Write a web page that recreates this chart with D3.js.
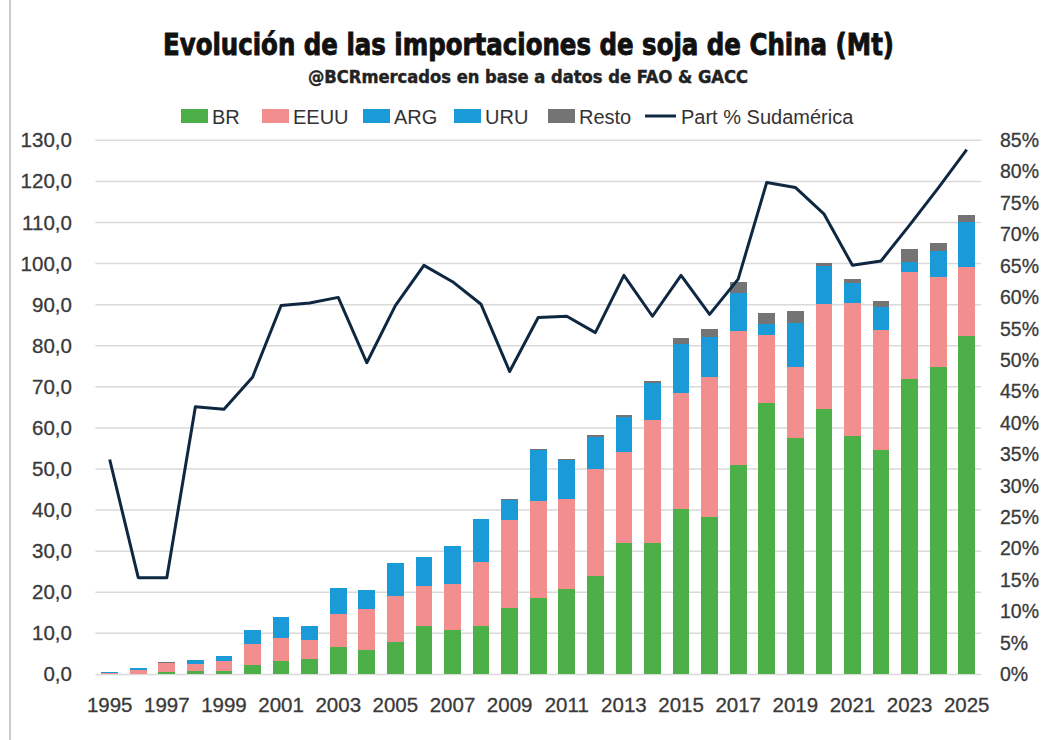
<!DOCTYPE html>
<html>
<head>
<meta charset="utf-8">
<script src="https://cdn.jsdelivr.net/npm/d3@7"></script>
<style>
  html, body { margin: 0; padding: 0; background: #ffffff; }
  svg { display: block; }
</style>
</head>
<body>
<svg id="chart" width="1042" height="740"></svg>
<script>
// ---- DATA ----
const years = d3.range(1995, 2026).map(String);
const BR   = [0.0, 0.05, 0.55, 0.8, 0.9, 2.2, 3.2, 3.8, 6.6, 5.9, 8.0, 11.8, 10.8, 11.8, 16.1, 18.6, 20.7, 23.9, 31.9, 32.1, 40.2, 38.4, 50.9, 66.1, 57.5, 64.5, 58.1, 54.5, 71.8, 74.8, 82.4];
const EEUU = [0.3, 0.9, 2.25, 1.8, 2.4, 5.3, 5.7, 4.5, 8.1, 9.9, 11.0, 9.6, 11.3, 15.5, 21.6, 23.6, 22.1, 26.1, 22.2, 29.9, 28.3, 34.1, 32.8, 16.6, 17.3, 25.6, 32.4, 29.4, 26.2, 21.9, 16.8];
const ARG  = [0.3, 0.5, 0.0, 0.8, 1.3, 3.2, 5.1, 3.4, 6.3, 4.7, 8.0, 7.2, 9.1, 10.6, 4.5, 11.5, 8.6, 6.4, 6.9, 7.1, 10.0, 7.8, 7.2, 1.5, 9.3, 7.9, 3.4, 4.1, 1.5, 4.6, 8.8];
const URU  = [0.0, 0.0, 0.0, 0.0, 0.0, 0.0, 0.0, 0.0, 0.0, 0.0, 0.0, 0.0, 0.0, 0.0, 0.3, 1.0, 0.8, 1.3, 1.6, 1.8, 2.0, 1.8, 2.0, 1.2, 1.5, 1.5, 1.3, 1.5, 0.8, 1.8, 2.0];
const Resto= [0.0, 0.0, 0.2, 0.0, 0.0, 0.0, 0.0, 0.0, 0.0, 0.0, 0.0, 0.0, 0.0, 0.0, 0.3, 0.2, 0.2, 0.6, 0.6, 0.6, 1.4, 1.9, 2.5, 2.6, 2.8, 0.6, 1.1, 1.5, 3.2, 1.9, 1.8];
const partSA = [34.2, 15.4, 15.4, 42.6, 42.2, 47.3, 58.7, 59.1, 60.0, 49.6, 58.7, 65.1, 62.5, 58.9, 48.2, 56.8, 57.0, 54.4, 63.5, 57.0, 63.5, 57.3, 62.9, 78.3, 77.5, 73.3, 65.1, 65.8, 71.5, 77.4, 83.5];
const seriesNames = ["BR", "EEUU", "ARG", "URU", "Resto"];
const lineName = "Part % Sudamérica";
const leftTicks = d3.range(0, 131, 10);
const rightTicks = d3.range(0, 86, 5);
const xTickYears = years.filter((d, i) => i % 2 === 0);
const title = "Evolución de las importaciones de soja de China (Mt)";
const subtitle = "@BCRmercados  en base a datos de FAO & GACC";

// ---- STYLE ----
const colors = { BR: "#4caf47", EEUU: "#f28e8e", ARG: "#1a9bd7", URU: "#1a9bd7", Resto: "#747474" };
const lineColor = "#0e2841";
const tickFont = "'Liberation Sans', Arial, sans-serif";

const svg = d3.select("#chart");
svg.append("rect").attr("width", 1042).attr("height", 740).attr("fill", "#ffffff");
svg.append("line").attr("x1", 10).attr("x2", 10).attr("y1", 0).attr("y2", 740)
  .attr("stroke", "#a8a8a8").attr("stroke-width", 1.2);

const plot = { left: 95.4, right: 981, top: 140.3, bottom: 674.4 };

const table = years.map((yr, i) => ({
  year: yr, BR: BR[i], EEUU: EEUU[i], ARG: ARG[i], URU: URU[i], Resto: Resto[i], part: partSA[i]
}));

const x = d3.scaleBand().domain(years).range([plot.left, plot.right])
  .paddingInner(0.415).paddingOuter(0.2075);
const y = d3.scaleLinear().domain([0, 130]).range([plot.bottom, plot.top]);
const y2 = d3.scaleLinear().domain([0, 85]).range([plot.bottom, plot.top]);

// gridlines
svg.append("g").selectAll("line").data(leftTicks).join("line")
  .attr("x1", plot.left).attr("x2", plot.right)
  .attr("y1", d => y(d)).attr("y2", d => y(d))
  .attr("stroke", "#d9d9d9").attr("stroke-width", 1.5);

// stacked bars
const stack = d3.stack().keys(seriesNames);
const stacked = stack(table);
svg.append("g").attr("shape-rendering", "crispEdges").selectAll("g").data(stacked).join("g")
  .attr("fill", d => colors[d.key])
  .selectAll("rect").data(d => d).join("rect")
  .attr("x", d => x(d.data.year))
  .attr("width", x.bandwidth())
  .attr("y", d => y(d[1]))
  .attr("height", d => Math.max(0, y(d[0]) - y(d[1])));

// line
const line = d3.line().x(d => x(d.year) + x.bandwidth() / 2).y(d => y2(d.part));
svg.append("path").datum(table).attr("d", line)
  .attr("fill", "none").attr("stroke", lineColor).attr("stroke-width", 3)
  .attr("stroke-linejoin", "round");

// axes
const fmtLeft = d => d3.format(".1f")(d).replace(".", ",");
const gl = svg.append("g").attr("transform", `translate(${plot.left},0)`)
  .call(d3.axisLeft(y).tickValues(leftTicks).tickFormat(fmtLeft).tickSize(0).tickPadding(23.5));
const gr = svg.append("g").attr("transform", `translate(${plot.right},0)`)
  .call(d3.axisRight(y2).tickValues(rightTicks).tickFormat(d => d + "%").tickSize(0).tickPadding(19));
const gx = svg.append("g").attr("transform", `translate(0,${plot.bottom})`)
  .call(d3.axisBottom(x).tickValues(xTickYears).tickSize(0).tickPadding(23.5));
[gl, gx].forEach(g => {
  g.select(".domain").remove();
  g.selectAll("text").attr("font-family", tickFont).attr("font-size", 20.5)
    .attr("fill", "#3a3a3a").attr("stroke", "#3a3a3a").attr("stroke-width", 0.3);
});
gr.select(".domain").remove();
gr.selectAll("text").attr("font-family", tickFont).attr("font-size", 19.5)
  .attr("fill", "#3a3a3a").attr("stroke", "#3a3a3a").attr("stroke-width", 0.3);

// title
svg.append("text").attr("x", 528.5).attr("y", 55).attr("text-anchor", "middle")
  .attr("font-family", "'Liberation Sans Narrow', 'DejaVu Sans Condensed', sans-serif")
  .attr("font-weight", "bold").attr("font-size", 31)
  .attr("textLength", 731).attr("lengthAdjust", "spacingAndGlyphs")
  .attr("fill", "#111").attr("stroke", "#111").attr("stroke-width", 0.9)
  .text(title);
svg.append("text").attr("x", 528).attr("y", 83).attr("text-anchor", "middle")
  .attr("font-family", "'Liberation Sans Narrow', 'DejaVu Sans Condensed', sans-serif")
  .attr("font-weight", "bold").attr("font-size", 18)
  .attr("textLength", 440).attr("lengthAdjust", "spacingAndGlyphs")
  .attr("fill", "#222").attr("stroke", "#222").attr("stroke-width", 0.4)
  .text(subtitle);

// legend
const legendX = [181, 262, 363, 454, 548];
const lg = svg.append("g");
seriesNames.forEach((name, i) => {
  lg.append("rect").attr("x", legendX[i]).attr("y", 109).attr("width", 27).attr("height", 14)
    .attr("fill", colors[name]);
  lg.append("text").attr("x", legendX[i] + 31).attr("y", 123.5)
    .attr("font-family", tickFont).attr("font-size", 20).attr("fill", "#333")
    .text(name);
});
lg.append("line").attr("x1", 645).attr("x2", 676).attr("y1", 116).attr("y2", 116)
  .attr("stroke", lineColor).attr("stroke-width", 3);
lg.append("text").attr("x", 681).attr("y", 123.5)
  .attr("font-family", tickFont).attr("font-size", 20).attr("fill", "#333")
  .text(lineName);
</script>
</body>
</html>
